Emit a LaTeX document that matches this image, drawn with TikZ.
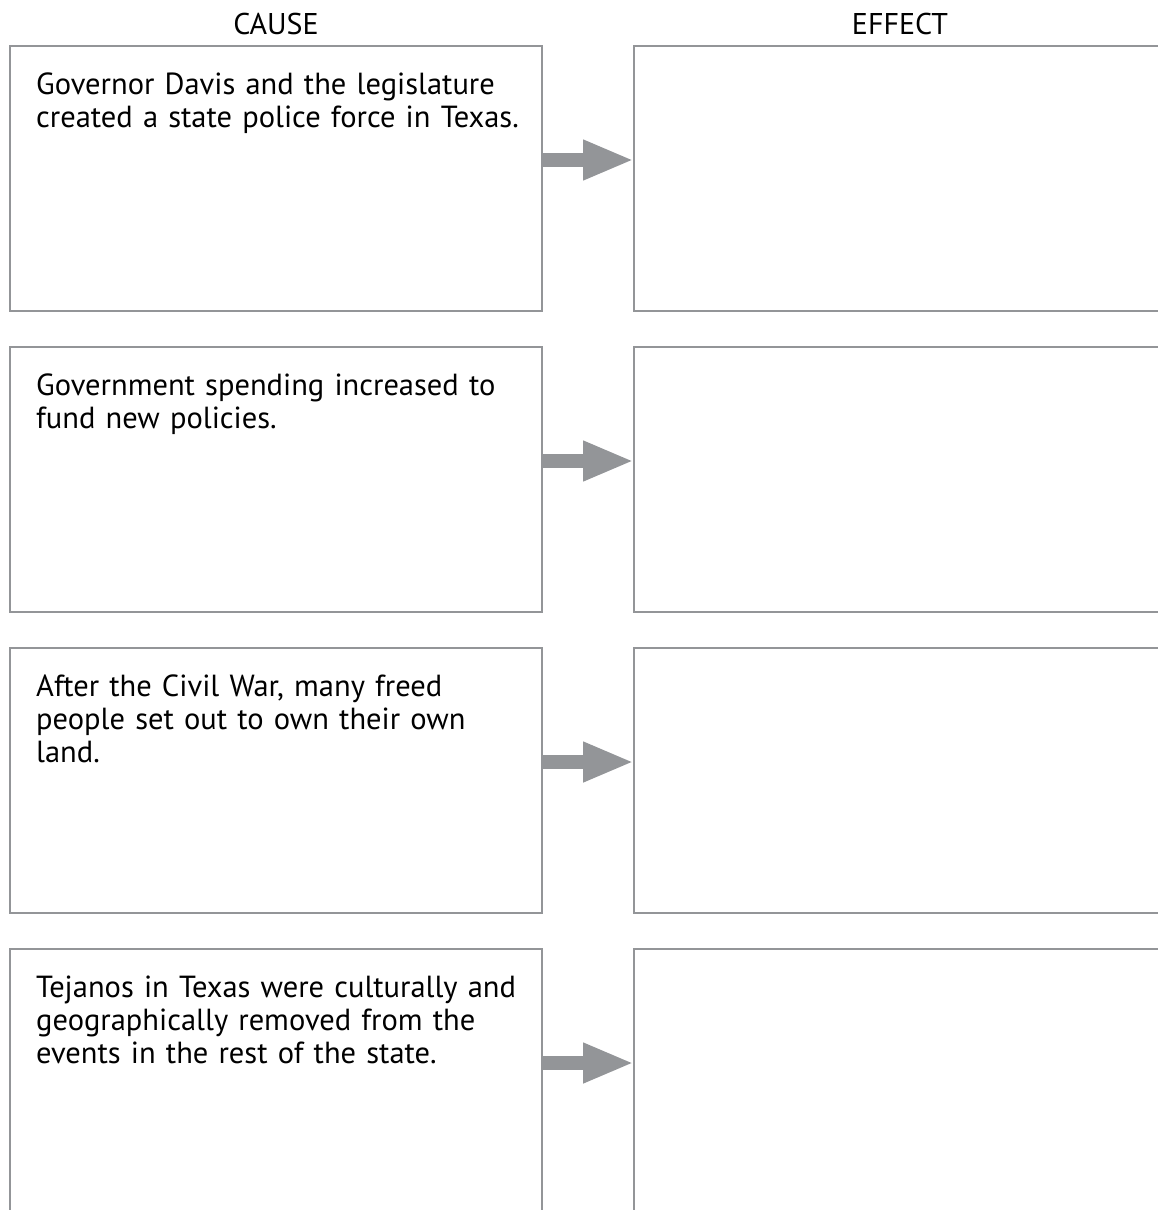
\documentclass[tikz,border=0pt]{standalone}
\usepackage{fontspec}
\setmainfont{PT Sans}
\usetikzlibrary{arrows.meta, positioning}
\definecolor{framegray}{HTML}{939598}

\tikzset{
	box/.style={draw=framegray, line width=2pt, minimum width=532pt, minimum height=265pt, inner sep=0pt, outer sep=0pt},
	boxtext/.style={anchor=north west, text width=515pt, align=left, inner sep=0pt, font=\fontsize{30.5}{33}\selectfont},
	head/.style={inner sep=0pt, font=\fontsize{30}{33}\selectfont},
	link/.style={draw=framegray, line width=14pt, -{Triangle[length=51pt,width=37pt]}}
}

\begin{document}
\begin{tikzpicture}[x=1pt, y=-1pt]
		\useasboundingbox (0,0) rectangle (1158,1210);
		
		%c1
		\node[box] (c1) at (276,178) {};
		%c2
		\node[box, below=36pt of c1] (c2) {};
		%c3
		\node[box, below=36pt of c2] (c3) {};
		%c4
		\node[box, below=36pt of c3] (c4) {};
		%e1
		\node[box, right=92pt of c1] (e1) {};
		%e2
		\node[box, right=92pt of c2] (e2) {};
		%e3
		\node[box, right=92pt of c3] (e3) {};
		%e4
		\node[box, right=92pt of c4] (e4) {};
		
		%headings
		\node[head, above=10pt of c1] (hcause) {CAUSE};
		\node[head, above=10pt of e1] (heffect) {EFFECT};
		
		%texts
		\node[boxtext] (t1) at ([xshift=26pt, yshift=-27pt]c1.north west) {Governor Davis and the legislature\\created a state police force in Texas.};
		\node[boxtext] (t2) at ([xshift=26pt, yshift=-27pt]c2.north west) {Government spending increased to\\fund new policies.};
		\node[boxtext] (t3) at ([xshift=26pt, yshift=-27pt]c3.north west) {After the Civil War, many freed\\people set out to own their own\\land.};
		\node[boxtext] (t4) at ([xshift=26pt, yshift=-27pt]c4.north west) {Tejanos in Texas were culturally and\\geographically removed from the\\events in the rest of the state.};
		
		\draw[link] ([yshift=18pt]c1.east) -- ([yshift=18pt]e1.west);
		\draw[link] ([yshift=18pt]c2.east) -- ([yshift=18pt]e2.west);
		\draw[link] ([yshift=18pt]c3.east) -- ([yshift=18pt]e3.west);
		\draw[link] ([yshift=18pt]c4.east) -- ([yshift=18pt]e4.west);
		
\end{tikzpicture}
\end{document}
